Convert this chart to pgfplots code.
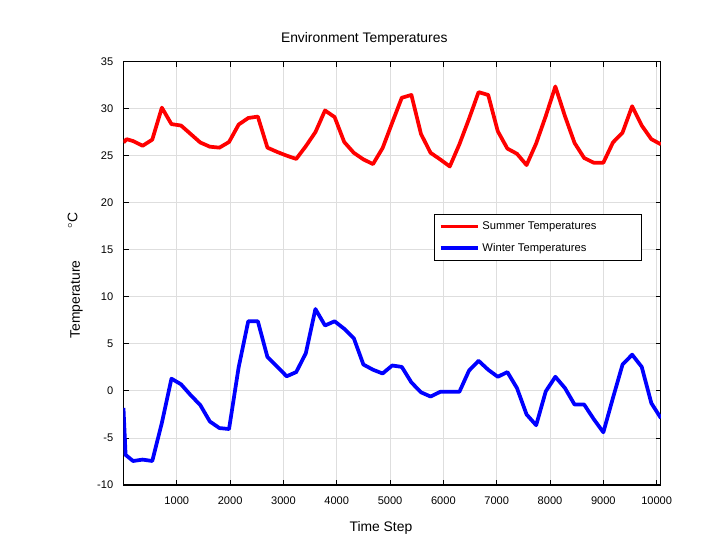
\documentclass[border=0pt]{standalone}
\usepackage{fontspec}
\setmainfont{Liberation Sans}
\usepackage{pgfplots}
\pgfplotsset{compat=1.18}
\definecolor{gridgray}{RGB}{222,222,222}
\begin{document}
\begin{tikzpicture}
\useasboundingbox (-92.6pt,-44.25pt) rectangle (448.9pt,363.75pt);
\begin{axis}[
  scale only axis,
  width=403.1pt, height=317.6pt,
  xmin=0, xmax=10080, ymin=-10, ymax=35,
  xtick={1000,2000,...,10000},
  ytick={-10,-5,...,35},
  scaled x ticks=false,
  /pgf/number format/assume math mode=true,
  /pgf/number format/1000 sep={},
  tick align=inside,
  major tick length=4pt,
  tick style={black, line width=0.6pt},
  axis line style={black, line width=0.8pt},
  grid=major,
  major grid style={gridgray, line width=0.6pt},
  ticklabel style={font=\fontsize{8.3}{10}\selectfont, text=black},
  yticklabel style={anchor=east, inner sep=0pt, xshift=-7.5pt},
  xticklabel style={anchor=north, inner sep=0pt, yshift=-8.5pt},
  title={Environment Temperatures},
  title style={at={(rel axis cs:0.448,1)}, anchor=base, yshift=8.4pt, font=\fontsize{10.4}{12}\selectfont},
  xlabel={Time Step},
  xlabel style={at={(rel axis cs:0.479,0)}, anchor=base, yshift=-35pt, font=\fontsize{10.4}{12}\selectfont},
  ylabel={Temperature\hspace{2.3em}\raisebox{2pt}{$^{\circ}$C}},
  ylabel style={at={(rel axis cs:0,0.495)}, anchor=base, yshift=32.6pt, font=\fontsize{10.4}{12}\selectfont},
  legend style={at={(rel axis cs:0.965,0.639)}, anchor=north east, draw=black, line width=0.6pt, fill=white,
    font=\fontsize{8.4}{10}\selectfont, row sep=5pt, inner xsep=3pt, inner ysep=3pt},
  legend cell align=left,
  legend image code/.code={\draw[#1, line width=2.8pt] (0pt,0pt) -- (28pt,0pt);},
]
\addplot[red, line width=2.8pt, line join=round] coordinates {
(0,26.4) (60,26.75) (180,26.55) (360,26.05) (540,26.7) (720,30.1) (900,28.35) (1080,28.2)
(1260,27.3) (1440,26.4) (1620,25.95) (1800,25.85) (1980,26.45) (2160,28.3) (2340,29.0)
(2520,29.15) (2700,25.85) (2880,25.4) (3060,25.0) (3240,24.65) (3420,26.0) (3600,27.5)
(3780,29.8) (3960,29.1) (4140,26.45) (4320,25.3) (4500,24.6) (4680,24.1) (4860,25.8)
(5040,28.5) (5220,31.15) (5400,31.45) (5580,27.3) (5760,25.3) (5940,24.6) (6120,23.85)
(6300,26.2) (6480,28.9) (6660,31.75) (6840,31.45) (7020,27.6) (7200,25.75) (7380,25.2)
(7560,24.0) (7740,26.3) (7920,29.2) (8100,32.35) (8280,29.2) (8460,26.35) (8640,24.75)
(8820,24.25) (9000,24.25) (9180,26.4) (9360,27.45) (9540,30.25) (9720,28.2) (9900,26.75)
(10080,26.2)
};
\addlegendentry{Summer Temperatures\hspace*{29pt}\mbox{}}
\addplot[blue, line width=2.8pt, line join=round] coordinates {
(0,-1.8) (40,-6.8) (180,-7.45) (360,-7.3) (540,-7.45) (720,-3.4) (900,1.3) (1080,0.7)
(1260,-0.45) (1440,-1.5) (1620,-3.25) (1800,-3.95) (1980,-4.05) (2160,2.5) (2340,7.4)
(2520,7.4) (2700,3.6) (2880,2.6) (3060,1.55) (3240,2.0) (3420,4.0) (3600,8.7)
(3780,6.95) (3960,7.4) (4140,6.6) (4320,5.6) (4500,2.8) (4680,2.25) (4860,1.85)
(5040,2.7) (5220,2.55) (5400,0.9) (5580,-0.15) (5760,-0.6) (5940,-0.1) (6120,-0.1)
(6300,-0.1) (6480,2.15) (6660,3.2) (6840,2.25) (7020,1.5) (7200,2.0) (7380,0.3)
(7560,-2.5) (7740,-3.65) (7920,-0.05) (8100,1.5) (8280,0.3) (8460,-1.45) (8640,-1.45)
(8820,-3.0) (9000,-4.4) (9180,-0.75) (9360,2.8) (9540,3.85) (9720,2.55) (9900,-1.3)
(10080,-2.9)
};
\addlegendentry{Winter Temperatures}
\end{axis}
\end{tikzpicture}
\end{document}
